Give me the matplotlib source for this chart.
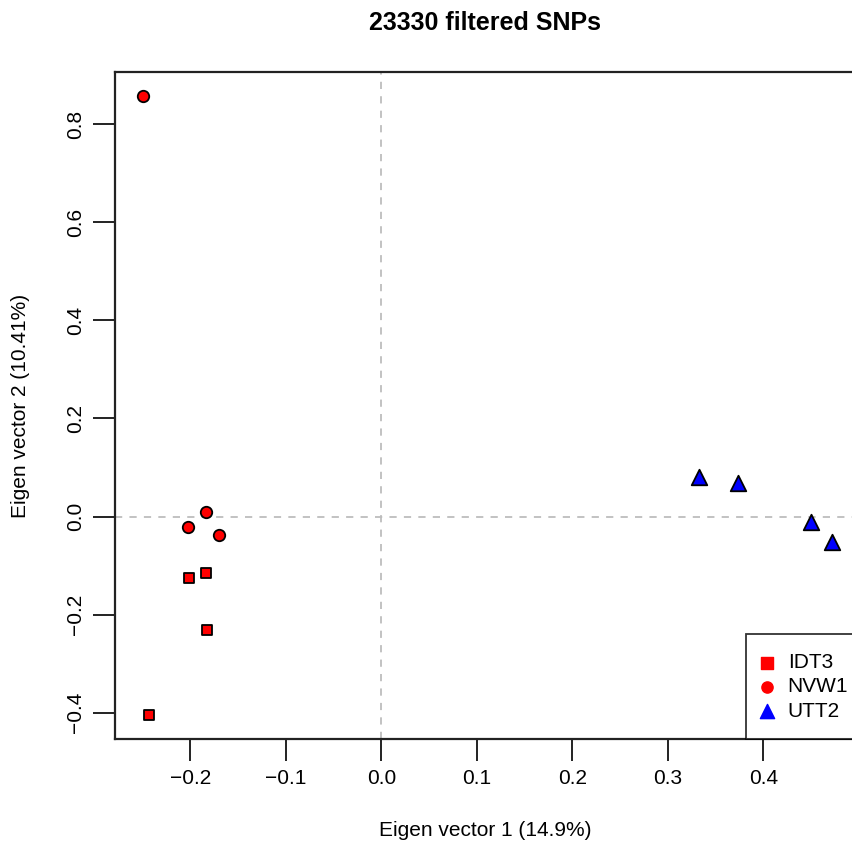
import matplotlib.pyplot as plt

plt.rcParams['font.family'] = ['Liberation Sans', 'DejaVu Sans']

# PCA coordinates per population (eigenvector 1, eigenvector 2)
idt3_x = [-0.1837, -0.2018, -0.1830, -0.2432]
idt3_y = [-0.1146, -0.1260, -0.2313, -0.4046]
nvw1_x = [-0.2495, -0.1837, -0.2025, -0.1700]
nvw1_y = [0.8570, 0.0090, -0.0210, -0.0380]
utt2_x = [0.3330, 0.3737, 0.4500, 0.4718]
utt2_y = [0.0806, 0.0680, -0.0102, -0.0520]

groups = ["IDT3", "NVW1", "UTT2"]
x_ticks = [-0.2, -0.1, 0.0, 0.1, 0.2, 0.3, 0.4]
y_ticks = [-0.4, -0.2, 0.0, 0.2, 0.4, 0.6, 0.8]


def main():
    fig = plt.figure(figsize=(8.53, 8.44), dpi=100)
    # plot box runs a little past the right edge of the figure
    ax = fig.add_axes([115 / 853, 104.7 / 844, 741 / 853, 667.6 / 844])

    ax.axvline(0, color="#bdbdbd", ls=(0, (4, 4)), lw=1.3, zorder=1)
    ax.axhline(0, color="#bdbdbd", ls=(0, (4, 4)), lw=1.3, zorder=1)

    ax.scatter(idt3_x, idt3_y, marker="s", s=58, c="#ff0000", edgecolors="black", linewidths=1.3, zorder=3)
    ax.scatter(nvw1_x, nvw1_y, marker="o", s=68, c="#ff0000", edgecolors="black", linewidths=1.3, zorder=3)
    ax.scatter(utt2_x, utt2_y, marker="^", s=125, c="#0000ff", edgecolors="black", linewidths=1.3, zorder=3)

    # legend uses solid symbols without outlines
    h1 = ax.scatter([], [], marker="s", s=65, c="#ff0000")
    h2 = ax.scatter([], [], marker="o", s=65, c="#ff0000")
    h3 = ax.scatter([], [], marker="^", s=105, c="#0000ff")
    leg = ax.legend([h1, h2, h3], groups, loc="lower right", fontsize=15,
                    bbox_to_anchor=(1 + 11 / 741, 0),
                    frameon=True, fancybox=False, borderaxespad=0,
                    handlelength=0.2, handletextpad=0.9,
                    labelspacing=0.25, borderpad=0.9)
    leg.get_frame().set_edgecolor("black")
    leg.get_frame().set_linewidth(1.3)

    ax.set_xlim(-0.279, 0.497)
    ax.set_ylim(-0.454, 0.907)
    ax.set_xticks(x_ticks)
    ax.set_xticklabels([f"{v:.1f}".replace("-", "\u2212") for v in x_ticks])
    ax.set_yticks(y_ticks)
    ax.set_yticklabels([f"{v:.1f}".replace("-", "\u2212") for v in y_ticks],
                       rotation=90, va="center")
    ax.tick_params(length=15.5, width=1.4, labelsize=15, pad=6, color="#222222")

    for sp in ax.spines.values():
        sp.set_linewidth(1.6)
        sp.set_color("#222222")

    ax.set_xlabel("Eigen vector 1 (14.9%)", fontsize=15, labelpad=24)
    ax.set_ylabel("Eigen vector 2 (10.41%)", fontsize=15, labelpad=26)
    ax.set_title("23330 filtered SNPs", fontsize=18, fontweight="bold", pad=30)

    fig.savefig("out.png", dpi=100)


if __name__ == "__main__":
    main()
